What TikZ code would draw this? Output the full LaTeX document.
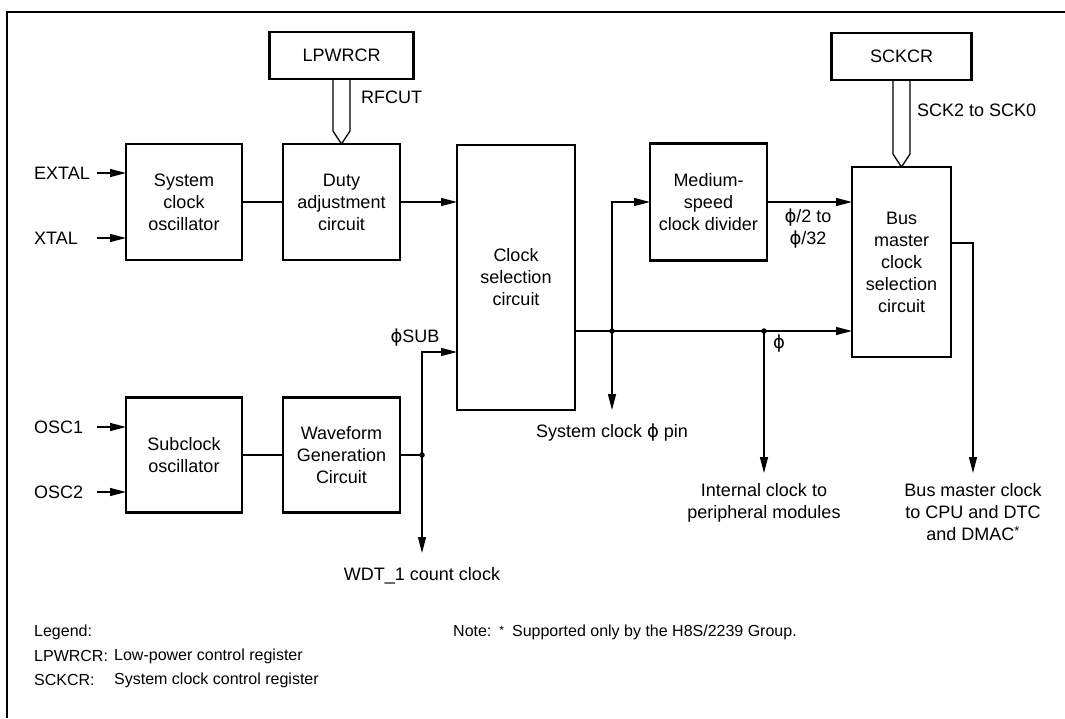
\documentclass[tikz,border=0pt]{standalone}
\usepackage{fontspec}
\setmainfont{Liberation Sans}
\newfontfamily\phfont{DejaVu Sans}
\usepackage{tikz}
\usetikzlibrary{arrows.meta,positioning}
\newcommand{\ph}{{\phfont\char"03D5}}
\newcommand{\astmark}{\raisebox{5pt}{\fontsize{13}{13}\selectfont *}}
\tikzstyle{blk}=[rectangle,draw,line width=2.7pt,inner sep=0pt,outer sep=0pt,align=center,
                 font=\fontsize{18}{22}\selectfont]
\tikzstyle{txt}=[inner sep=0pt,align=center,font=\fontsize{18}{22}\selectfont]
\tikzstyle{outlbl}=[txt,anchor=north,inner ysep=12pt]
\tikzstyle{lgd}=[inner sep=0pt,anchor=west,font=\fontsize{16}{19}\selectfont]
\tikzstyle{sig}=[-{Triangle[length=16pt,width=8pt]},line width=1.3pt]
\tikzstyle{wire}=[line width=1.3pt]
\tikzstyle{regbus}=[line width=1.3pt,line join=miter]
\tikzstyle{jdot}=[circle,fill,inner sep=0pt,minimum size=5.5pt]

\begin{document}
\begin{tikzpicture}[x=1pt,y=-1pt]
  \useasboundingbox (0,0) rectangle (1065,718);
  \draw[line width=2.6pt] (7,718) -- (7,12) -- (1065,12);

  % clock blocks
  \node[blk,minimum width=116pt,minimum height=116pt] (sysosc) at (184,202) {System\\clock\\oscillator};
  \node[blk,minimum width=117pt,minimum height=116pt,right=41pt of sysosc] (duty) {Duty\\adjustment\\circuit};
  \node[blk,minimum width=144pt,minimum height=47pt,above=65pt of duty] (lpwrcr) {LPWRCR};
  \node[blk,minimum width=118pt,minimum height=265pt] (clksel) at (516,277.5) {Clock\\selection\\circuit};
  \node[blk,minimum width=117pt,minimum height=117pt] (meddiv) at (708.5,202) {Medium-\\speed\\clock divider};
  \node[blk,minimum width=99pt,minimum height=190pt] (busm) at (901.5,262) {Bus\\master\\clock\\selection\\circuit};
  \node[blk,minimum width=140pt,minimum height=47pt] (sckcr) at (901.5,56.5) {SCKCR};
  \node[blk,minimum width=116pt,minimum height=115pt] (subosc) at (184,455) {Subclock\\oscillator};
  \node[blk,minimum width=117pt,minimum height=115pt,right=41pt of subosc] (wave) {Waveform\\Generation\\Circuit};

  % register buses
  \draw[regbus] ([xshift=-8.5pt]lpwrcr.south) -- ([xshift=-8.5pt,yshift=13pt]duty.north) -- (duty.north)
                -- ([xshift=8.5pt,yshift=13pt]duty.north) -- ([xshift=8.5pt]lpwrcr.south);
  \draw[regbus] ([xshift=-8.5pt]sckcr.south) -- ([xshift=-8.5pt,yshift=13pt]busm.north) -- (busm.north)
                -- ([xshift=8.5pt,yshift=13pt]busm.north) -- ([xshift=8.5pt]sckcr.south);
  \node[txt,anchor=west] (rfcut) at (361,97) {RFCUT};
  \node[txt,anchor=west] (sckbits) at (917,110) {SCK2 to SCK0};

  % inputs
  \node[txt,anchor=west] (extal) at (34,173) {EXTAL};
  \node[txt,anchor=west] (xtal) at (34,238) {XTAL};
  \node[txt,anchor=west] (osc1) at (34,427) {OSC1};
  \node[txt,anchor=west] (osc2) at (34,492) {OSC2};
  \coordinate (extalin) at (97,173);
  \coordinate (xtalin) at (97,238);
  \coordinate (osc1in) at (97,427);
  \coordinate (osc2in) at (97,492);
  \draw[sig] (extalin) -- (extalin -| sysosc.west);
  \draw[sig] (xtalin) -- (xtalin -| sysosc.west);
  \draw[sig] (osc1in) -- (osc1in -| subosc.west);
  \draw[sig] (osc2in) -- (osc2in -| subosc.west);

  % main clock path
  \draw[wire] (sysosc) -- (duty);
  \draw[sig] (duty) -- (duty.east -| clksel.west);
  \draw[wire] (subosc) -- (wave);
  \coordinate (jsub) at (422,455);
  \coordinate (subin) at (457,352);
  \draw[wire] (wave) -- (jsub);
  \draw[sig] (jsub) |- (subin -| clksel.west);
  \node[jdot] (dsub) at (jsub) {};
  \node[txt] (phisub) at (415,338) {\ph SUB};
  \node[outlbl,inner ysep=14pt] (wdt) at (422,553) {WDT\_1 count clock};
  \draw[sig] (jsub) -- (wdt.north);

  \coordinate (j1) at (612,331);
  \coordinate (j2) at (764,331);
  \draw[sig] (clksel.east |- j1) -- (busm.west |- j1);
  \draw[sig] (j1) |- (meddiv.west);
  \draw[sig] (meddiv) -- (meddiv.east -| busm.west);
  \node[jdot] (d1) at (j1) {};
  \node[jdot] (d2) at (j2) {};
  \node[txt] (phi) at (779,344) {\ph};
  \node[txt] (phidiv) at (808,229) {\ph/2 to\\\ph/32};

  % outputs
  \node[outlbl,inner ysep=14pt] (pin) at (612,410) {System clock \ph{} pin};
  \draw[sig] (j1) -- (pin.north);
  \node[outlbl,inner ysep=10pt] (intclk) at (764,473) {Internal clock to\\peripheral modules};
  \draw[sig] (j2) -- (intclk.north);
  \coordinate (busout) at (973,243);
  \node[outlbl,inner ysep=10pt] (busclk) at (973,473) {Bus master clock\\to CPU and DTC\\and DMAC\astmark};
  \draw[sig] (busout -| busm.east) -| (busclk.north);

  % legend
  \node[lgd] (lg0) at (34,632) {Legend:};
  \node[lgd] (lg1) at (34,656) {LPWRCR:};
  \node[lgd] (lg1t) at (114,656) {Low-power control register};
  \node[lgd] (lg2) at (34,680) {SCKCR:};
  \node[lgd] (lg2t) at (114,680) {System clock control register};
  \node[lgd] (note) at (453,632) {Note:\enspace{\raisebox{2pt}{\fontsize{12}{12}\selectfont *}}\enspace Supported only by the H8S/2239 Group.};
\end{tikzpicture}
\end{document}
